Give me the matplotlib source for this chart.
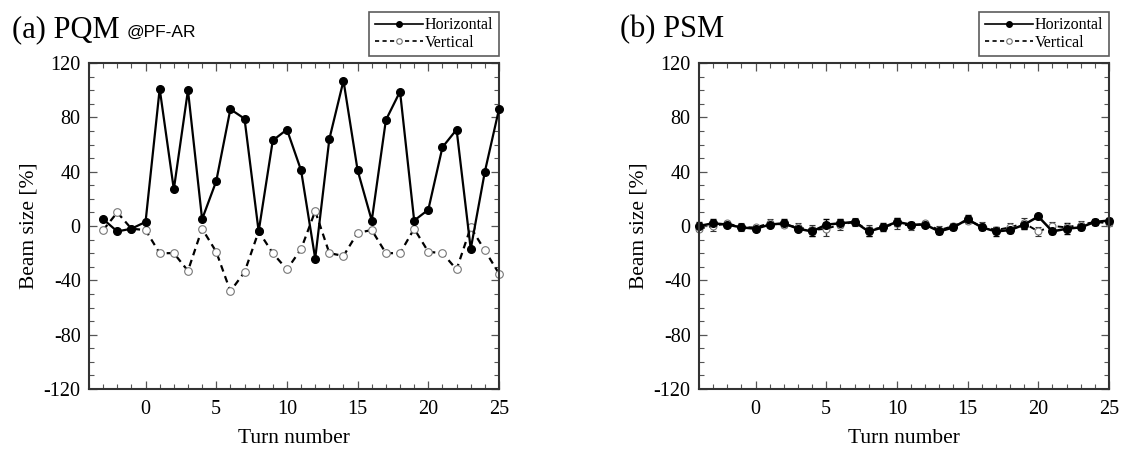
import numpy as np
import matplotlib
matplotlib.use('Agg')
import matplotlib.pyplot as plt
from matplotlib.ticker import MultipleLocator
from matplotlib.lines import Line2D

plt.rcParams['font.family'] = ['Liberation Serif', 'DejaVu Serif']
plt.rcParams['axes.unicode_minus'] = False

# (a) PQM data
turns_a = list(range(-3, 26))
pqm_h = [5, -4, -2, 3, 101, 27, 100, 5, 33, 86, 79, -4, 63, 71, 41, -24, 64,
         107, 41, 4, 78, 99, 4, 12, 58, 71, -17, 40, 86]
pqm_v = [-3, 10, -2, -3, -20, -20, -33, -2, -19, -48, -34, -4, -20, -32, -17, 11, -20,
         -22, -5, -3, -20, -20, -2, -19, -20, -32, -1, -18, -35]

# (b) PSM data
turns_b = list(range(-4, 26))
psm_h = [0, 2, 1, -1, -2, 1, 2, -2, -4, 1, 2, 3, -4, -1, 3, 1, 1, -4, -1, 5, -1,
         -4, -3, 1, 7, -4, -2, -1, 3, 4]
psm_v = [-2, 0, 2, -1, -1, 2, 1, -1, -3, -2, 1, 3, -3, -1, 2, 0, 2, -3, 0, 4, 0,
         -3, -1, 2, -4, 0, -1, 1, 3, 2]
psm_h_err = [3, 3, 2, 2, 2, 2, 3, 2, 3, 4, 3, 2, 3, 3, 3, 2, 2, 2, 2, 3, 2,
             3, 2, 3, 2, 2, 4, 2, 2, 2]
psm_v_err = [2, 4, 2, 3, 2, 3, 2, 3, 4, 5, 4, 3, 4, 2, 4, 3, 2, 3, 2, 2, 3,
             2, 3, 4, 3, 3, 2, 3, 2, 2]

fig = plt.figure(figsize=(11.21, 4.49), dpi=100)
W, H = 1121, 449
ax_a = fig.add_axes([89 / W, 1 - 389 / H, 410 / W, 326 / H])
ax_b = fig.add_axes([699 / W, 1 - 389 / H, 410 / W, 326 / H])

ax_a.plot(turns_a, pqm_h, '-', color='black', lw=1.6, marker='o', ms=5.5,
          mfc='black', mec='black', clip_on=False, zorder=3)
ax_a.plot(turns_a, pqm_v, '--', color='black', lw=1.6, dashes=(3, 2.2), marker='o',
          ms=5.5, mfc='white', mec='#777777', mew=0.8, clip_on=False, zorder=2)

ax_b.errorbar(turns_b, psm_v, yerr=psm_v_err, fmt='--', color='black', lw=1.4,
              dashes=(3, 2.2), marker='o', ms=5, mfc='white', mec='#777777',
              mew=0.8, ecolor='#333333', elinewidth=1, capsize=2.5, clip_on=False)
ax_b.errorbar(turns_b, psm_h, yerr=psm_h_err, fmt='-', color='black', lw=1.8,
              marker='o', ms=5.5, mfc='black', mec='black', ecolor='black',
              elinewidth=1, capsize=2.5, clip_on=False)

h_handle = Line2D([], [], ls='-', color='black', lw=1.2, marker='o', ms=4,
                  mfc='black', mec='black')
v_handle = Line2D([], [], ls='--', color='black', lw=1.2, dashes=(2.5, 2),
                  marker='o', ms=4, mfc='white', mec='#777777', mew=0.8)

for ax in (ax_a, ax_b):
    ax.set_xlim(-4, 25)
    ax.set_ylim(-120, 120)
    ax.xaxis.set_major_locator(MultipleLocator(5))
    ax.xaxis.set_minor_locator(MultipleLocator(1))
    ax.yaxis.set_major_locator(MultipleLocator(40))
    ax.yaxis.set_minor_locator(MultipleLocator(10))
    ax.tick_params(which='both', direction='in', top=True, right=True,
                   labelsize=14.5, colors='#555555', labelcolor='black')
    ax.tick_params(axis='x', pad=8)
    ax.tick_params(axis='y', pad=6)
    ax.tick_params(which='major', length=6, width=0.9)
    ax.tick_params(which='minor', length=3.5, width=0.8)
    for sp in ax.spines.values():
        sp.set_linewidth(1.5)
        sp.set_color('#333333')
    ax.set_xlabel('Turn number', fontsize=15.5, labelpad=7)
    ax.set_ylabel('Beam size [%]', fontsize=15.5, labelpad=4)
    leg = ax.legend([h_handle, v_handle], ['Horizontal', 'Vertical'],
                    loc='lower right', bbox_to_anchor=(1.0, 1.02), fontsize=11.5,
                    frameon=True, fancybox=False, edgecolor='#333333',
                    handlelength=3.0, handletextpad=0.15, borderpad=0.35,
                    labelspacing=0.1, borderaxespad=0, numpoints=1)
    leg.get_frame().set_linewidth(1.2)

fig.text(12 / W, 1 - 37 / H, '(a) PQM', fontsize=22, va='baseline')
fig.text(127 / W, 1 - 37 / H, '@PF-AR', fontsize=12.5, va='baseline',
         family=['Liberation Sans', 'DejaVu Sans'])
fig.text(620 / W, 1 - 37 / H, '(b) PSM', fontsize=22, va='baseline')

fig.savefig('out.png', dpi=100)
